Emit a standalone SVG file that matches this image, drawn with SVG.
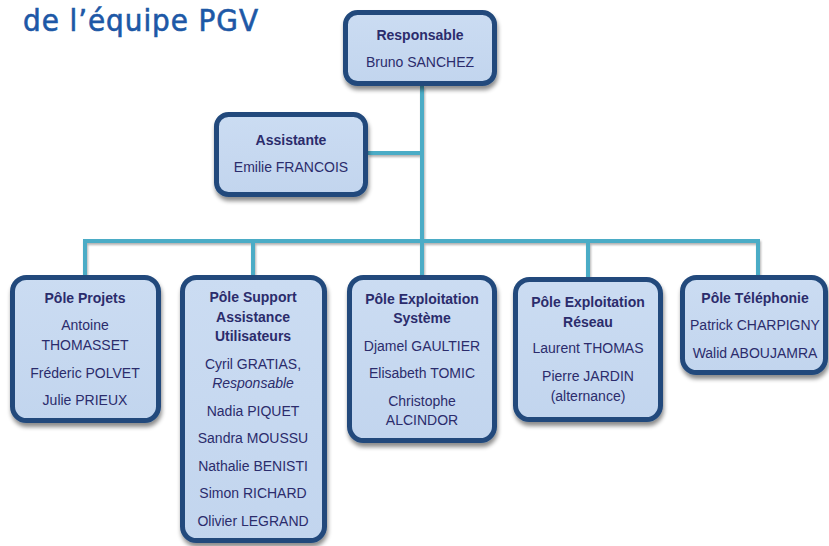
<svg xmlns="http://www.w3.org/2000/svg" width="829" height="546" viewBox="0 0 829 546">
<defs>
<filter id="sh" x="-10%" y="-10%" width="125%" height="130%">
<feDropShadow dx="1" dy="4" stdDeviation="2" flood-color="#000" flood-opacity="0.45"/>
</filter>
<filter id="lsh" filterUnits="userSpaceOnUse" x="0" y="0" width="829" height="546">
<feDropShadow dx="1" dy="2" stdDeviation="1" flood-color="#000" flood-opacity="0.3"/>
</filter>
<linearGradient id="fillg" x1="0" y1="0" x2="0" y2="1">
<stop offset="0" stop-color="#cbdcf2"/>
<stop offset="1" stop-color="#c2d5ee"/>
</linearGradient>
</defs>
<style>
.box{fill:url(#fillg);stroke:#21497c;stroke-width:5;filter:url(#sh)}
.t{font-family:"Liberation Sans",Arial,sans-serif;font-size:14px;fill:#2b2c6c;text-anchor:middle}
.b{font-weight:bold}
.i{font-style:italic}
.c{fill:none;stroke:#4bacc6;stroke-width:4}
.title{font-family:"DejaVu Sans Condensed","DejaVu Sans",sans-serif;font-size:31px;font-weight:normal;fill:#1d58a6;stroke:#1d58a6;stroke-width:0.6}
</style>
<rect width="829" height="546" fill="#ffffff"/>
<text class="title" x="23" y="31" textLength="235" lengthAdjust="spacing">de l’équipe PGV</text>
<g id="connectors" filter="url(#lsh)">
<path class="c" d="M422 86 V241"/>
<path class="c" d="M368 153 H422"/>
<path class="c" d="M85 275 V241 H758 V275"/>
<path class="c" d="M253 241 V275"/>
<path class="c" d="M422 241 V275"/>
<path class="c" d="M588 241 V277"/>
</g>
<g id="responsable">
<rect class="box" x="345.5" y="12.5" width="149" height="71" rx="12"/>
<text class="t b" x="420" y="40">Responsable</text>
<text class="t" x="420" y="67">Bruno SANCHEZ</text>
</g>
<g id="assistante">
<rect class="box" x="216.5" y="114.5" width="149" height="80" rx="12"/>
<text class="t b" x="291" y="145">Assistante</text>
<text class="t" x="291" y="172">Emilie FRANCOIS</text>
</g>
<g id="pole-projets">
<rect class="box" x="12.5" y="277.5" width="146" height="143" rx="14"/>
<text class="t b" x="85" y="303">Pôle Projets</text>
<text class="t" x="85" y="330">Antoine</text>
<text class="t" x="85" y="350">THOMASSET</text>
<text class="t" x="85" y="378">Fréderic POLVET</text>
<text class="t" x="85" y="405">Julie PRIEUX</text>
</g>
<g id="pole-support">
<rect class="box" x="182.5" y="277.5" width="142" height="263" rx="14"/>
<text class="t b" x="253" y="302">Pôle Support</text>
<text class="t b" x="253" y="322">Assistance</text>
<text class="t b" x="253" y="341">Utilisateurs</text>
<text class="t" x="253" y="369">Cyril GRATIAS,</text>
<text class="t i" x="253" y="388">Responsable</text>
<text class="t" x="253" y="416">Nadia PIQUET</text>
<text class="t" x="253" y="443">Sandra MOUSSU</text>
<text class="t" x="253" y="471">Nathalie BENISTI</text>
<text class="t" x="253" y="498">Simon RICHARD</text>
<text class="t" x="253" y="526">Olivier LEGRAND</text>
</g>
<g id="pole-systeme">
<rect class="box" x="349.5" y="277.5" width="145" height="163" rx="14"/>
<text class="t b" x="422" y="304">Pôle Exploitation</text>
<text class="t b" x="422" y="323">Système</text>
<text class="t" x="422" y="351">Djamel GAULTIER</text>
<text class="t" x="422" y="378">Elisabeth TOMIC</text>
<text class="t" x="422" y="406">Christophe</text>
<text class="t" x="422" y="425">ALCINDOR</text>
</g>
<g id="pole-reseau">
<rect class="box" x="515.5" y="279.5" width="145" height="140" rx="14"/>
<text class="t b" x="588" y="307">Pôle Exploitation</text>
<text class="t b" x="588" y="327">Réseau</text>
<text class="t" x="588" y="353">Laurent THOMAS</text>
<text class="t" x="588" y="381">Pierre JARDIN</text>
<text class="t" x="588" y="401">(alternance)</text>
</g>
<g id="pole-telephonie">
<rect class="box" x="682.5" y="277.5" width="143" height="95" rx="14"/>
<text class="t b" x="755" y="303">Pôle Téléphonie</text>
<text class="t" x="755" y="330">Patrick CHARPIGNY</text>
<text class="t" x="755" y="358">Walid ABOUJAMRA</text>
</g>
</svg>
